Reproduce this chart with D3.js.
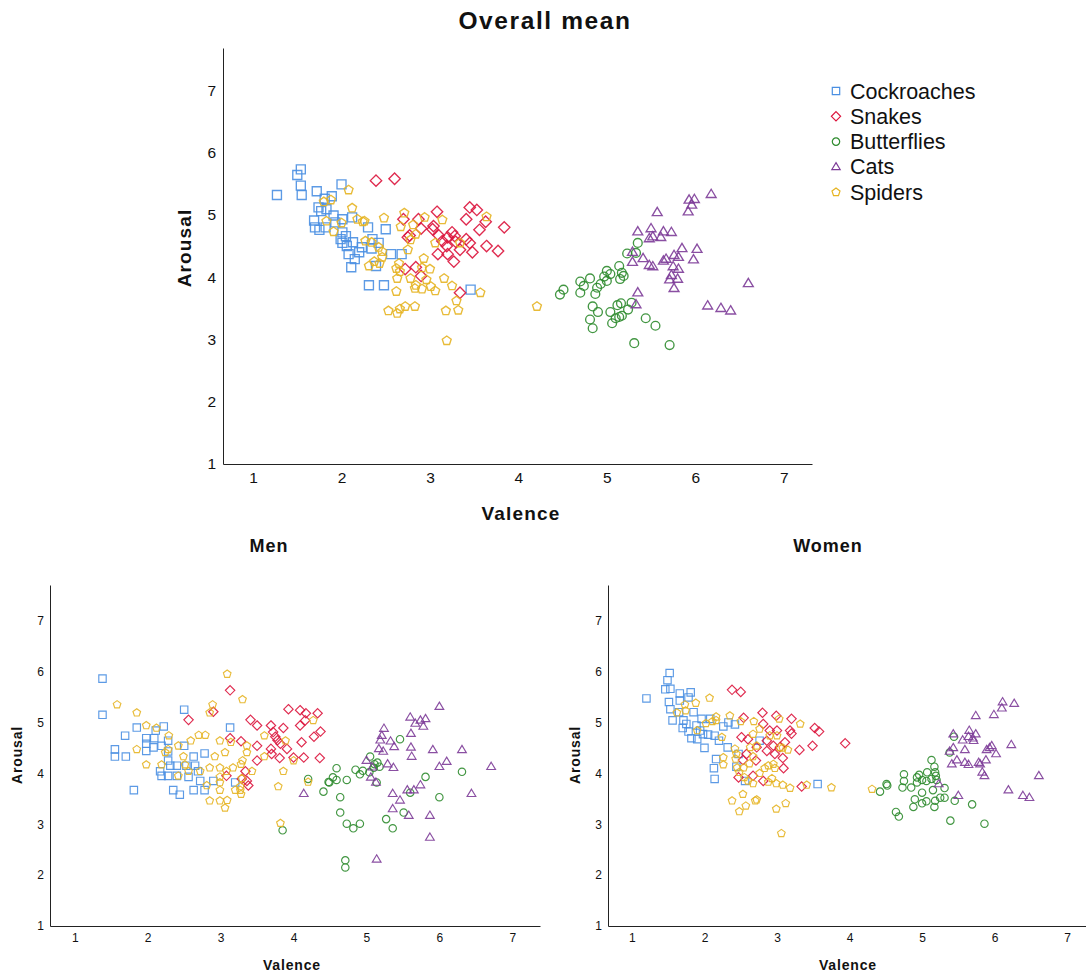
<!DOCTYPE html>
<html>
<head>
<meta charset="utf-8">
<script src="https://cdn.jsdelivr.net/npm/d3@7"></script>
<style>
  body { margin: 0; background: #fff; }
  text { font-family: "Liberation Sans", Arial, Helvetica, sans-serif; fill: #111; }
</style>
</head>
<body>
<svg id="chart" width="1086" height="977"></svg>
<script>
const categories = ["Cockroaches", "Snakes", "Butterflies", "Cats", "Spiders"];
const colors = ["#4a8fe2", "#dc143c", "#2e8b2e", "#7d3c98", "#e6b422"];
const tickValues = [1, 2, 3, 4, 5, 6, 7];

// [valence, arousal] per stimulus
const overallCockroaches = [[1.27,5.32],[1.50,5.64],[1.54,5.73],[1.54,5.47],[1.55,5.32],[1.72,5.38],[2.00,5.49],[1.81,5.26],[1.89,5.30],[1.74,5.12],[1.77,5.06],[1.83,5.09],[1.69,4.91],[1.70,4.80],[1.75,4.76],[1.82,4.80],[1.91,4.99],[1.93,4.88],[2.01,4.93],[2.12,4.96],[2.01,4.72],[2.05,4.66],[1.99,4.61],[2.01,4.55],[2.06,4.50],[2.13,4.56],[2.08,4.37],[2.15,4.29],[2.11,4.16],[2.23,4.48],[2.30,4.80],[2.35,4.61],[2.42,4.55],[2.34,4.46],[2.50,4.77],[2.56,4.37],[2.68,4.37],[2.39,4.18],[2.31,3.87],[2.48,3.87],[3.46,3.80],[2.20,4.40]];
const overallSnakes = [[2.39,5.55],[2.60,5.58],[2.70,4.93],[2.87,4.93],[2.90,4.78],[2.77,4.67],[2.75,4.64],[3.08,5.05],[3.04,4.82],[3.10,4.67],[3.14,4.58],[3.20,4.64],[3.25,4.72],[3.28,4.66],[3.19,4.50],[3.09,4.37],[3.20,4.37],[3.27,4.25],[3.34,4.44],[3.29,4.57],[3.41,4.93],[3.45,5.12],[3.53,5.08],[3.63,4.89],[3.56,4.76],[3.84,4.80],[3.45,4.55],[3.48,4.40],[3.64,4.50],[3.77,4.42],[3.41,4.61],[2.84,4.16],[2.72,4.13],[2.90,4.02],[3.34,3.75],[3.03,4.77]];
const overallButterflies = [[4.47,3.72],[4.51,3.80],[4.70,3.75],[4.70,3.93],[4.74,3.86],[4.81,3.98],[4.87,3.73],[4.89,3.83],[4.93,3.89],[4.97,4.01],[5.00,4.10],[5.00,3.94],[5.04,4.05],[5.14,4.18],[5.15,3.97],[5.19,4.02],[5.17,4.07],[5.23,4.38],[5.33,4.39],[5.35,4.55],[4.84,3.53],[4.90,3.44],[4.81,3.32],[4.84,3.18],[5.04,3.44],[5.06,3.26],[5.10,3.34],[5.12,3.55],[5.16,3.58],[5.17,3.38],[5.24,3.48],[5.28,3.59],[5.44,3.34],[5.55,3.22],[5.31,2.94],[5.71,2.91],[5.14,3.36]];
const overallCats = [[6.18,5.33],[5.93,5.24],[5.99,5.25],[5.96,5.16],[5.92,5.05],[5.57,5.04],[5.35,4.73],[5.50,4.78],[5.48,4.62],[5.52,4.65],[5.61,4.64],[5.64,4.73],[5.73,4.72],[5.29,4.40],[5.29,4.24],[5.41,4.30],[5.48,4.19],[5.52,4.17],[5.64,4.26],[5.67,4.29],[5.76,4.35],[5.81,4.32],[5.85,4.46],[6.02,4.45],[5.98,4.28],[5.75,4.17],[5.81,4.13],[5.73,4.03],[5.71,3.96],[5.80,3.97],[5.76,3.82],[5.35,3.75],[5.33,3.56],[6.14,3.54],[6.29,3.50],[6.40,3.46],[6.60,3.90]];
const overallSpiders = [[2.08,5.40],[1.80,5.21],[1.88,5.24],[2.12,5.11],[1.83,4.90],[1.91,4.73],[2.00,4.87],[2.18,4.93],[2.24,4.89],[2.26,4.90],[2.48,4.95],[2.71,5.03],[2.67,4.81],[2.81,4.84],[2.94,4.96],[3.14,4.92],[3.64,4.97],[2.84,4.69],[2.78,4.60],[3.06,4.55],[3.34,4.55],[2.27,4.58],[2.34,4.56],[2.42,4.48],[2.46,4.41],[2.75,4.44],[2.37,4.25],[2.31,4.18],[2.43,4.22],[2.46,4.32],[2.65,4.22],[2.62,4.14],[2.66,4.09],[2.93,4.30],[2.91,4.15],[3.00,4.13],[2.63,3.98],[2.78,3.98],[2.96,3.96],[2.84,3.87],[2.83,3.82],[2.91,3.81],[3.01,3.85],[3.06,3.78],[3.16,3.98],[3.25,3.86],[2.62,3.77],[3.30,3.62],[3.57,3.75],[2.53,3.46],[2.63,3.42],[2.66,3.49],[2.72,3.53],[2.83,3.53],[3.18,3.46],[3.32,3.47],[3.19,2.98],[4.21,3.53]];

const menCockroaches = [[1.38,5.86],[1.38,5.15],[1.69,4.74],[1.85,4.90],[1.55,4.47],[1.55,4.33],[1.70,4.33],[1.81,3.67],[1.98,4.69],[1.98,4.58],[1.98,4.44],[2.09,4.69],[2.08,4.51],[2.19,4.54],[2.22,4.92],[2.28,4.64],[2.28,4.43],[2.28,4.25],[2.17,4.04],[2.19,3.95],[2.31,4.15],[2.28,3.95],[2.40,4.15],[2.40,3.95],[2.50,4.54],[2.50,5.25],[2.53,4.15],[2.56,3.93],[2.63,4.33],[2.65,4.15],[2.69,4.04],[2.63,3.67],[2.35,3.67],[2.44,3.58],[2.78,4.39],[2.78,3.67],[2.72,3.85],[2.90,3.85],[3.13,4.90],[3.20,3.82],[2.11,4.84]];
const menSnakes = [[3.13,5.63],[2.56,5.05],[2.90,5.21],[3.13,4.69],[3.28,4.63],[3.41,5.05],[3.50,4.94],[3.50,4.54],[3.50,4.25],[3.34,4.04],[3.36,3.85],[3.38,3.76],[3.29,3.89],[3.08,3.95],[3.69,4.94],[3.72,4.81],[3.75,4.72],[3.78,4.65],[3.86,4.89],[3.82,4.58],[3.69,4.48],[3.70,4.38],[3.81,4.30],[3.91,4.48],[3.93,5.26],[4.09,5.24],[4.17,5.18],[4.16,5.04],[4.09,4.94],[4.33,5.18],[4.37,4.82],[4.28,4.72],[4.11,4.61],[4.00,4.31],[4.14,4.31],[4.36,4.30]];
const menButterflies = [[5.46,4.67],[4.59,4.10],[4.54,3.92],[4.49,3.82],[4.59,3.87],[4.73,3.87],[4.41,3.64],[4.64,3.53],[4.64,3.23],[4.73,3.01],[4.82,2.92],[4.91,3.01],[4.71,2.29],[4.71,2.15],[4.85,4.07],[4.91,3.98],[4.95,4.05],[5.05,4.33],[5.11,4.18],[5.15,4.21],[5.18,4.13],[5.04,4.02],[5.14,3.82],[4.20,3.89],[3.85,2.88],[5.81,3.93],[6.31,4.03],[5.60,3.62],[6.00,3.53],[5.51,3.23],[5.27,3.10],[5.36,2.92],[5.10,4.11],[4.48,3.83]];
const menCats = [[6.00,5.31],[5.60,5.10],[5.67,4.98],[5.74,5.04],[5.81,5.07],[5.78,4.92],[5.24,4.88],[5.21,4.74],[5.19,4.65],[5.61,4.78],[5.33,4.63],[5.38,4.52],[5.17,4.48],[5.23,4.43],[5.61,4.51],[5.62,4.33],[5.91,4.46],[6.31,4.46],[6.71,4.13],[6.00,4.13],[6.10,4.23],[5.29,4.18],[5.37,4.11],[5.00,4.25],[5.08,4.12],[5.06,3.92],[5.13,3.82],[5.74,3.77],[5.56,3.67],[5.65,3.67],[5.36,3.60],[5.46,3.47],[5.36,3.30],[5.58,3.17],[5.87,3.17],[6.44,3.60],[5.87,2.74],[5.14,2.31],[4.14,3.60]];
const menSpiders = [[3.09,5.95],[1.58,5.35],[1.85,5.19],[3.30,5.45],[2.89,5.35],[2.85,5.19],[1.98,4.94],[2.12,4.89],[2.29,4.74],[1.85,4.47],[1.98,4.17],[2.28,4.47],[2.24,4.41],[2.42,4.54],[2.59,4.64],[2.70,4.75],[2.79,4.75],[2.99,4.64],[3.14,4.61],[3.36,4.54],[3.06,4.41],[3.36,4.41],[2.49,4.33],[2.92,4.33],[2.19,4.17],[2.51,4.17],[2.56,4.04],[2.42,3.95],[2.85,4.11],[2.99,4.11],[3.08,4.04],[3.17,4.11],[3.28,4.18],[3.30,4.25],[3.43,4.04],[3.60,4.74],[3.60,4.33],[3.89,4.64],[4.00,4.25],[3.86,4.04],[3.79,3.74],[4.27,5.04],[4.20,3.83],[3.82,3.02],[2.81,3.76],[2.99,3.93],[2.99,3.82],[2.99,3.67],[2.85,3.46],[2.99,3.46],[3.09,3.47],[3.06,3.32],[3.20,3.67],[3.27,3.67],[3.28,3.59],[3.29,3.90],[3.27,3.74],[2.72,4.04]];

const womenCockroaches = [[1.20,5.47],[1.52,5.97],[1.49,5.83],[1.46,5.65],[1.53,5.66],[1.51,5.40],[1.53,5.26],[1.66,5.43],[1.78,5.49],[1.81,5.59],[1.56,5.04],[1.65,5.20],[1.71,5.04],[1.75,4.97],[1.85,5.20],[1.70,4.89],[1.78,4.82],[1.82,4.69],[1.90,4.67],[1.89,4.94],[1.96,5.07],[1.94,4.84],[1.98,4.77],[2.05,4.76],[2.14,4.74],[2.00,4.50],[2.08,5.07],[2.20,4.64],[2.26,4.92],[2.33,5.00],[2.42,4.96],[2.32,4.51],[2.16,4.28],[2.13,4.10],[2.14,3.89],[2.47,4.38],[2.76,4.64],[2.44,4.13],[2.56,3.85],[3.56,3.79],[1.66,5.57]];
const womenSnakes = [[2.38,5.64],[2.50,5.60],[2.54,5.09],[2.80,5.19],[2.99,5.13],[3.20,5.07],[2.81,4.97],[2.90,4.84],[3.00,4.84],[3.18,4.84],[3.20,4.78],[3.52,4.89],[3.58,4.82],[3.94,4.59],[3.49,4.54],[3.31,4.46],[2.51,4.71],[2.60,4.67],[2.72,4.51],[2.86,4.64],[2.95,4.54],[3.11,4.61],[2.97,4.38],[3.08,4.30],[3.09,4.10],[2.58,4.38],[2.53,4.26],[2.71,4.25],[2.47,3.92],[2.67,3.95],[2.81,3.85],[3.34,3.74],[2.86,4.44],[3.04,4.51]];
const womenButterflies = [[5.13,4.26],[5.17,4.13],[5.18,4.02],[5.19,3.95],[5.07,4.02],[4.96,3.97],[4.93,3.92],[5.00,3.87],[5.13,3.89],[5.20,3.87],[4.75,3.98],[4.75,3.85],[4.73,3.72],[4.85,3.72],[4.93,3.82],[5.00,3.62],[5.15,3.67],[5.31,3.71],[4.51,3.79],[4.52,3.76],[4.42,3.64],[4.90,3.49],[5.00,3.41],[5.06,3.45],[5.18,3.46],[5.25,3.52],[5.31,3.52],[4.88,3.34],[5.17,3.34],[5.45,3.46],[5.69,3.39],[4.64,3.24],[4.68,3.15],[5.39,3.07],[5.86,3.01],[5.44,4.72],[5.38,4.41],[5.06,3.85]];
const womenCats = [[6.11,5.40],[6.27,5.37],[6.10,5.28],[5.74,5.13],[5.99,5.15],[5.43,4.77],[5.65,4.84],[5.74,4.77],[5.64,4.72],[5.56,4.65],[5.71,4.64],[5.43,4.50],[5.38,4.43],[5.59,4.46],[5.96,4.54],[5.89,4.46],[5.93,4.50],[6.02,4.38],[6.23,4.56],[5.88,4.26],[5.48,4.26],[5.41,4.18],[5.59,4.21],[5.64,4.17],[5.78,4.21],[5.80,4.18],[5.83,4.02],[5.86,3.95],[6.61,3.95],[6.19,3.67],[6.39,3.56],[6.48,3.52],[5.23,3.79],[5.50,3.56],[5.70,4.69]];
const womenSpiders = [[2.07,5.48],[1.88,5.38],[1.73,5.35],[1.74,5.23],[1.62,5.19],[1.90,4.84],[2.02,4.98],[2.11,5.02],[2.16,5.11],[2.16,5.04],[2.35,5.13],[2.50,5.02],[2.68,5.02],[3.03,5.07],[3.32,4.97],[2.24,4.71],[2.67,4.77],[2.76,4.87],[2.90,4.74],[3.00,4.74],[2.42,4.48],[2.44,4.38],[2.43,4.28],[2.26,4.31],[2.26,4.17],[2.63,4.51],[2.72,4.54],[2.67,4.33],[2.62,4.19],[2.45,4.11],[2.54,4.11],[2.48,4.02],[2.55,3.92],[2.60,3.85],[2.67,3.80],[2.76,4.00],[2.83,4.10],[2.88,4.15],[2.95,4.18],[2.97,4.10],[2.88,3.83],[2.93,3.90],[2.99,3.80],[3.08,3.77],[3.18,3.71],[3.04,4.51],[3.08,4.50],[3.15,4.46],[3.41,3.77],[3.75,3.72],[2.38,3.46],[2.53,3.59],[2.57,3.36],[2.48,3.25],[2.70,3.46],[2.72,3.48],[2.99,3.30],[3.12,3.41],[3.06,2.82],[4.31,3.69]];

// marker shapes, size = radius
const shapes = [
  { draw(c, r) { c.moveTo(-r, -r); c.lineTo(r, -r); c.lineTo(r, r); c.lineTo(-r, r); c.closePath(); } },
  { draw(c, r) { c.moveTo(0, -r); c.lineTo(r, 0); c.lineTo(0, r); c.lineTo(-r, 0); c.closePath(); } },
  { draw(c, r) { c.moveTo(r, 0); c.arc(0, 0, r, 0, 2 * Math.PI); } },
  { draw(c, r) { c.moveTo(0, -r); c.lineTo(r * 0.97, r * 0.62); c.lineTo(-r * 0.97, r * 0.62); c.closePath(); } },
  { draw(c, r) {
      for (let k = 0; k < 5; k++) {
        const a = -Math.PI / 2 + k * 2 * Math.PI / 5;
        if (k === 0) c.moveTo(r * Math.cos(a), r * Math.sin(a)); else c.lineTo(r * Math.cos(a), r * Math.sin(a));
      }
      c.closePath();
  } }
];

const svg = d3.select("#chart");

const panels = [
  { data: [overallCockroaches, overallSnakes, overallButterflies, overallCats, overallSpiders],
    xd: [0.66, 7.32], xr: [223, 812], yd: [1, 7.68], yr: [464, 48],
    radii: [4.5, 5.7, 4.4, 5.1, 4.7], sw: 1.35, font: 15.5, pad: 8,
    xlab: { x: 521, y: 520, size: 19 }, ylab: { x: 191, y: 248, size: 19 } },
  { data: [menCockroaches, menSnakes, menButterflies, menCats, menSpiders],
    xd: [0.66, 7.38], xr: [50, 540], yd: [1, 7.7], yr: [926, 585],
    radii: [3.7, 4.7, 3.7, 4.5, 4.0], sw: 1.15, font: 12, pad: 7,
    title: { text: "Men", x: 269, y: 552 },
    xlab: { x: 292, y: 970, size: 14 }, ylab: { x: 22, y: 755, size: 14 } },
  { data: [womenCockroaches, womenSnakes, womenButterflies, womenCats, womenSpiders],
    xd: [0.67, 7.26], xr: [608, 1086], yd: [1, 7.7], yr: [926, 585],
    radii: [3.7, 4.7, 3.7, 4.5, 4.0], sw: 1.15, font: 12, pad: 7,
    title: { text: "Women", x: 828, y: 552 },
    xlab: { x: 848, y: 970, size: 14 }, ylab: { x: 580, y: 755, size: 14 } }
];

panels.forEach(p => {
  const x = d3.scaleLinear().domain(p.xd).range(p.xr);
  const y = d3.scaleLinear().domain(p.yd).range(p.yr);
  const g = svg.append("g");

  const xAxis = g.append("g")
    .attr("transform", `translate(0,${p.yr[0]})`)
    .call(d3.axisBottom(x).tickValues(tickValues).tickSize(0).tickPadding(p.pad).tickFormat(d3.format("d")));
  const yAxis = g.append("g")
    .attr("transform", `translate(${p.xr[0]},0)`)
    .call(d3.axisLeft(y).tickValues(tickValues).tickSize(0).tickPadding(p.pad - 1).tickFormat(d3.format("d")));
  [xAxis, yAxis].forEach(a => {
    a.select(".domain").attr("stroke", "#222").attr("stroke-width", 1);
    a.selectAll("text").attr("font-size", p.font).attr("fill", "#111")
      .attr("font-family", "'Liberation Sans', Arial, sans-serif");
  });

  categories.forEach((cat, i) => {
    const sym = d3.symbol().type(shapes[i]).size(p.radii[i]);
    g.append("g").selectAll("path")
      .data(p.data[i])
      .join("path")
      .attr("transform", d => `translate(${x(d[0])},${y(d[1])})`)
      .attr("d", sym)
      .attr("fill", "none")
      .attr("stroke", colors[i])
      .attr("stroke-width", p.sw)
      .attr("stroke-opacity", 0.9);
  });

  g.append("text")
    .attr("x", p.xlab.x).attr("y", p.xlab.y)
    .attr("text-anchor", "middle")
    .attr("font-weight", "bold").attr("font-size", p.xlab.size)
    .attr("letter-spacing", p.xlab.size * 0.06)
    .text("Valence");
  g.append("text")
    .attr("transform", `translate(${p.ylab.x},${p.ylab.y}) rotate(-90)`)
    .attr("text-anchor", "middle")
    .attr("font-weight", "bold").attr("font-size", p.ylab.size)
    .attr("letter-spacing", p.ylab.size * 0.06)
    .text("Arousal");
  if (p.title) {
    g.append("text")
      .attr("x", p.title.x).attr("y", p.title.y)
      .attr("text-anchor", "middle")
      .attr("font-weight", "bold").attr("font-size", 18)
      .attr("letter-spacing", 1)
      .text(p.title.text);
  }
});

svg.append("text")
  .attr("x", 545).attr("y", 29)
  .attr("text-anchor", "middle")
  .attr("font-weight", "bold").attr("font-size", 24.5)
  .attr("letter-spacing", 1.6)
  .text("Overall mean");

// legend
const legend = svg.append("g").attr("transform", "translate(836,91)");
categories.forEach((cat, i) => {
  const row = legend.append("g").attr("transform", `translate(0,${i * 25.3})`);
  row.append("path")
    .attr("d", d3.symbol().type(shapes[i]).size([3.7, 4.6, 3.7, 4.3, 4.2][i]))
    .attr("fill", "none").attr("stroke", colors[i]).attr("stroke-width", 1.2);
  row.append("text")
    .attr("x", 14).attr("y", 7.5)
    .attr("font-size", 21.5)
    .text(cat);
});
</script>
</body>
</html>
